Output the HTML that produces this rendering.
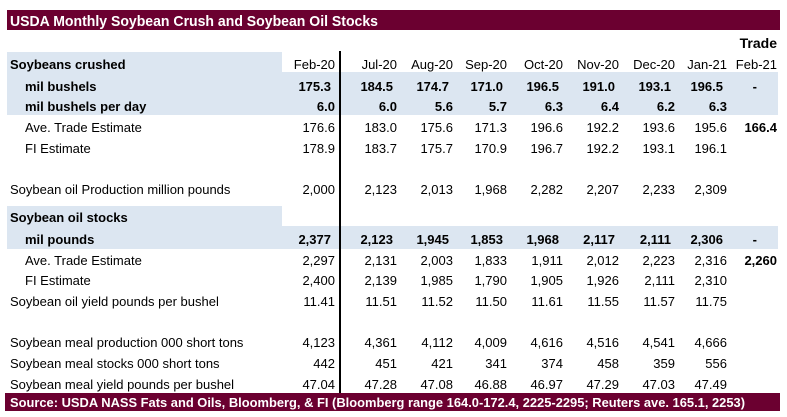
<!DOCTYPE html>
<html><head><meta charset="utf-8"><style>
html,body{margin:0;padding:0;background:#fff;width:787px;height:417px;overflow:hidden}
svg{display:block;font-family:"Liberation Sans",sans-serif}
</style></head><body>
<svg id="t" width="787" height="417" viewBox="0 0 787 417">
<rect x="7" y="10" width="773" height="20" fill="#6b0030"/>
<text x="10" y="26" fill="#fff" font-weight="bold" font-size="15" textLength="368" lengthAdjust="spacingAndGlyphs">USDA Monthly Soybean Crush and Soybean Oil Stocks</text>
<rect x="7" y="52" width="275" height="20" fill="#dce6f1"/>
<rect x="7" y="72" width="771" height="43" fill="#dce6f1"/>
<rect x="7" y="206" width="275" height="20" fill="#dce6f1"/>
<rect x="7" y="226" width="771" height="23" fill="#dce6f1"/>
<line x1="340" y1="51" x2="340" y2="393" stroke="#000" stroke-width="2"/>
<rect x="5" y="393" width="775" height="18" fill="#6b0030"/>
<text x="10" y="407" fill="#fff" font-weight="bold" font-size="13" textLength="735" lengthAdjust="spacingAndGlyphs">Source: USDA NASS Fats and Oils, Bloomberg, &amp; FI (Bloomberg range 164.0-172.4, 2225-2295;  Reuters ave. 165.1, 2253)</text>
<text x="777" y="48" text-anchor="end" font-weight="bold" font-size="14">Trade</text>
</svg>
<script>
const months=["Feb-20","Jul-20","Aug-20","Sep-20","Oct-20","Nov-20","Dec-20","Jan-21","Feb-21"];
const colRight=[335,397,453,507,563,619,675,727,777];
const labels=[
 ["Soybeans crushed",10,true,69],
 ["mil bushels",25,true,91],
 ["mil bushels per day",25,true,111],
 ["Ave. Trade Estimate",25,false,132],
 ["FI Estimate",25,false,153],
 ["Soybean oil Production million pounds",10,false,194],
 ["Soybean oil stocks",10,true,222],
 ["mil pounds",25,true,244],
 ["Ave. Trade Estimate",25,false,265],
 ["FI Estimate",25,false,285],
 ["Soybean oil yield pounds per bushel",10,false,306],
 ["Soybean meal production 000 short tons",10,false,347],
 ["Soybean meal stocks 000 short tons",10,false,368],
 ["Soybean meal yield pounds per bushel",10,false,389]];
const rowVals=[
 ["175.3","184.5","174.7","171.0","196.5","191.0","193.1","196.5","-"],
 ["6.0","6.0","5.6","5.7","6.3","6.4","6.2","6.3",""],
 ["176.6","183.0","175.6","171.3","196.6","192.2","193.6","195.6","166.4"],
 ["178.9","183.7","175.7","170.9","196.7","192.2","193.1","196.1",""],
 ["2,000","2,123","2,013","1,968","2,282","2,207","2,233","2,309",""],
 null,
 ["2,377","2,123","1,945","1,853","1,968","2,117","2,111","2,306","-"],
 ["2,297","2,131","2,003","1,833","1,911","2,012","2,223","2,316","2,260"],
 ["2,400","2,139","1,985","1,790","1,905","1,926","2,111","2,310",""],
 ["11.41","11.51","11.52","11.50","11.61","11.55","11.57","11.75",""],
 ["4,123","4,361","4,112","4,009","4,616","4,516","4,541","4,666",""],
 ["442","451","421","341","374","458","359","556",""],
 ["47.04","47.28","47.08","46.88","46.97","47.29","47.03","47.49",""]];
const boldRows=[0,1,6];
const NS="http://www.w3.org/2000/svg";
const svg=document.getElementById('t');
function txt(s,x,y,bold,anchor){
 const e=document.createElementNS(NS,'text');
 e.setAttribute('x',x);e.setAttribute('y',y);e.setAttribute('font-size','13');
 if(bold)e.setAttribute('font-weight','bold');
 if(anchor)e.setAttribute('text-anchor',anchor);
 e.textContent=s;svg.appendChild(e);return e;}
months.forEach((m,i)=>{
 const e=txt(m,colRight[i],69,false,'end');
 
 });
labels.forEach((l,i)=>{
 const e=txt(l[0],l[1],l[3],l[2]);
 
 
 const v=rowVals[i-1];
 if(i>0&&v){v.forEach((s,j)=>{
  if(!s)return;
  const b=boldRows.includes(i-1)||(i===3&&j===8)||(i===8&&j===8);
  let x=colRight[j]-(boldRows.includes(i-1)&&i!==2?4:0);
  if(s==='-')x=colRight[j]-20;
  const c=txt(s,x,l[3],b,'end');
  
  });}
});
</script>
</body></html>
